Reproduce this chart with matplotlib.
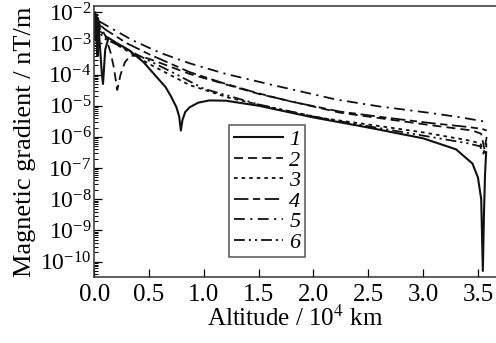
import matplotlib
matplotlib.use('Agg')
import matplotlib.pyplot as plt
from matplotlib.ticker import LogLocator, NullFormatter, LogFormatterMathtext, FormatStrFormatter

# fonts (Times-like)
plt.rcParams['font.family'] = ['Liberation Serif', 'DejaVu Serif']
plt.rcParams['mathtext.fontset'] = 'stix'

# Data: altitude (10^4 km) and magnetic gradient (nT/m)
x1 = [0.0, 0.01, 0.02, 0.03, 0.04, 0.05, 0.06, 0.07, 0.08, 0.1, 0.13, 0.2, 0.32, 0.45, 0.57,
      0.65, 0.7, 0.75, 0.775, 0.79, 0.805, 0.83, 0.87, 0.95, 1.05, 1.2, 1.5, 2.0, 2.5, 3.0,
      3.3, 3.45, 3.5, 3.53, 3.545, 3.555, 3.565, 3.575]
y1 = [6.3e-3, 1.3e-3, 5.0e-3, 4.0e-4, 3.2e-3, 1.0e-3, 3.2e-4, 1.0e-4, 5.0e-5, 6.3e-4, 1.5e-3,
      1.05e-3, 6.0e-4, 2.5e-4, 8.3e-5, 4.0e-5, 2.0e-5, 8.9e-6, 4.5e-6, 1.6e-6, 3.5e-6, 6.3e-6,
      8.9e-6, 1.26e-5, 1.48e-5, 1.45e-5, 1.0e-5, 4.2e-6, 2.0e-6, 9.0e-7, 4.0e-7, 1.4e-7,
      5.0e-8, 1.0e-8, 5.0e-11, 3.2e-9, 6.3e-8, 3.2e-7]

x2 = [0.0, 0.01, 0.02, 0.04, 0.06, 0.1, 0.15, 0.18, 0.21, 0.24, 0.28, 0.33, 0.4, 0.5, 0.87,
      1.5, 2.24, 3.06, 3.45, 3.53, 3.56, 3.58]
y2 = [4.0e-3, 7.9e-3, 1.0e-3, 5.0e-3, 3.2e-3, 1.8e-3, 5.0e-4, 1.6e-4, 3.2e-5, 1.0e-4, 2.5e-4,
      4.0e-4, 4.0e-4, 3.2e-4, 1.05e-4, 2.4e-5, 6.0e-6, 2.4e-6, 1.6e-6, 1.26e-6, 4.0e-7, 1.0e-6]

x3 = [0.0, 0.01, 0.02, 0.03, 0.05, 0.1, 0.21, 0.5, 0.87, 1.23, 1.63, 2.08, 2.5, 3.0, 3.4,
      3.52, 3.56, 3.58]
y3 = [5.0e-3, 1.26e-3, 6.3e-3, 6.3e-4, 2.5e-3, 1.8e-3, 8.9e-4, 2.2e-4, 4.6e-5, 1.8e-5, 8.5e-6,
      4.0e-6, 2.5e-6, 1.4e-6, 7.9e-7, 6.3e-7, 3.2e-7, 6.3e-7]

x4 = [0.0, 0.01, 0.02, 0.035, 0.05, 0.1, 0.3, 0.5, 0.87, 1.17, 1.48, 1.78, 2.24, 2.7, 3.06,
      3.4, 3.54, 3.58]
y4 = [5.0e-3, 1.0e-2, 1.6e-3, 6.3e-3, 4.0e-3, 2.8e-3, 1.0e-3, 4.5e-4, 1.2e-4, 5.4e-5, 2.6e-5,
      1.4e-5, 6.5e-6, 4.0e-6, 2.8e-6, 2.1e-6, 1.8e-6, 1.6e-6]

x5 = [0.0, 0.01, 0.02, 0.03, 0.05, 0.2, 0.35, 0.6, 0.87, 1.2, 1.63, 2.2, 2.6, 3.06, 3.35,
      3.54, 3.58]
y5 = [7.1e-3, 2.5e-3, 7.9e-3, 3.2e-3, 5.0e-3, 2.5e-3, 1.26e-3, 5.0e-4, 2.3e-4, 1.05e-4, 4.6e-5,
      1.6e-5, 9.5e-6, 5.9e-6, 4.2e-6, 3.2e-6, 2.8e-6]

x6 = [0.0, 0.015, 0.03, 0.045, 0.06, 0.1, 0.3, 0.5, 0.73, 1.0, 1.5, 2.0, 2.5, 3.0, 3.4,
      3.52, 3.56, 3.58]
y6 = [3.2e-3, 6.3e-3, 7.9e-4, 4.0e-3, 2.0e-3, 1.4e-3, 6.3e-4, 2.8e-4, 1.1e-4, 3.5e-5, 1.1e-5,
      4.5e-6, 2.2e-6, 1.1e-6, 6.3e-7, 5.0e-7, 2.5e-7, 5.0e-7]

labels = ['1', '2', '3', '4', '5', '6']
xticks = [0.0, 0.5, 1.0, 1.5, 2.0, 2.5, 3.0, 3.5]

fig = plt.figure(figsize=(4.96, 3.43), dpi=100)
ax = fig.add_axes([0.19, 0.192, 0.81, 0.7905])

c = '#111111'
ax.plot(x1, y1, color=c, lw=1.5, ls='-', label=labels[0])
ax.plot(x2, y2, color=c, lw=1.3, ls=(0, (5, 2.8)), label=labels[1])
ax.plot(x3, y3, color=c, lw=1.3, ls=(0, (2, 2.2)), label=labels[2])
ax.plot(x4, y4, color=c, lw=1.3, ls=(0, (8, 2.5, 4, 2.5)), label=labels[3])
ax.plot(x5, y5, color=c, lw=1.3, ls=(0, (6, 3, 1.2, 3)), label=labels[4])
ax.plot(x6, y6, color=c, lw=1.3, ls=(0, (6, 2.2, 1.2, 2.2, 1.2, 2.2)), label=labels[5])

ax.set_yscale('log')
ax.set_xlim(0, 3.665)
ax.set_ylim(10**-10.5, 10**-1.8)

ax.set_xticks(xticks)
ax.xaxis.set_major_formatter(FormatStrFormatter('%.1f'))
ax.yaxis.set_major_locator(LogLocator(base=10, numticks=20))
ax.yaxis.set_minor_locator(LogLocator(base=10, subs=range(2, 10), numticks=20))
ax.yaxis.set_minor_formatter(NullFormatter())
ax.yaxis.set_major_formatter(LogFormatterMathtext())

ax.tick_params(axis='both', which='major', direction='in', length=6,
               width=0.9, top=False, right=False)
ax.tick_params(axis='x', which='major', pad=5, labelsize=18)
ax.tick_params(axis='y', which='major', pad=2, labelsize=17)
ax.tick_params(axis='y', which='minor', direction='in', length=3, width=0.7, right=False)
ax.tick_params(axis='x', which='minor', bottom=False)

ax.spines['right'].set_visible(False)
for s in ['left', 'bottom', 'top']:
    ax.spines[s].set_linewidth(1.1)
    ax.spines[s].set_color('#333333')

ax.set_xlabel('Altitude / 10$^{4}$ km', fontsize=18, labelpad=0)
ax.set_ylabel('Magnetic gradient / nT/m', fontsize=19, labelpad=3)

leg = ax.legend(loc='upper left', bbox_to_anchor=(0.336, 0.561), fancybox=False,
                edgecolor='#555555', framealpha=1, prop={'style': 'italic', 'size': 16},
                handlelength=2.2, handletextpad=0.3, labelspacing=0.0, borderpad=0.2,
                borderaxespad=0)
leg.get_frame().set_linewidth(1.1)

plt.savefig('out.png', dpi=100)
